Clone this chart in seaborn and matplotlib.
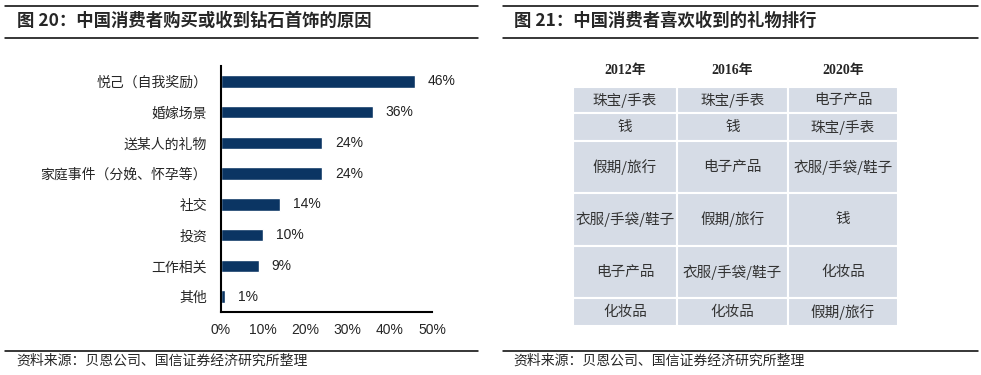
import matplotlib
matplotlib.use("Agg")
import matplotlib.pyplot as plt
import seaborn as sns
from matplotlib.lines import Line2D

# 数据
reasons = ["悦己（自我奖励）", "婚嫁场景", "送某人的礼物", "家庭事件（分娩、怀孕等）",
           "社交", "投资", "工作相关", "其他"]
shares = [46, 36, 24, 24, 14, 10, 9, 1]
x_ticks = [0, 10, 20, 30, 40, 50]

years = ["2012年", "2016年", "2020年"]
gifts_2012 = ["珠宝/手表", "钱", "假期/旅行", "衣服/手袋/鞋子", "电子产品", "化妆品"]
gifts_2016 = ["珠宝/手表", "钱", "电子产品", "假期/旅行", "衣服/手袋/鞋子", "化妆品"]
gifts_2020 = ["电子产品", "珠宝/手表", "衣服/手袋/鞋子", "钱", "化妆品", "假期/旅行"]

title_left = "图 20：中国消费者购买或收到钻石首饰的原因"
title_right = "图 21：中国消费者喜欢收到的礼物排行"
source = "资料来源：贝恩公司、国信证券经济研究所整理"

sns.set_style("white")
plt.rcParams["font.family"] = ["Noto Sans CJK SC", "DejaVu Sans"]

W, H = 981, 375
fig = plt.figure(figsize=(W / 100, H / 100), dpi=100)
bar_color = "#0b3563"


def fx(px):
    return px / W


def fy(py):
    return 1 - py / H


# 标题和分隔线
for x0, x1, tx, title in [(5, 478, 17, title_left), (503, 978, 514, title_right)]:
    for yy in (6, 38, 351):
        fig.add_artist(Line2D([fx(x0), fx(x1)], [fy(yy), fy(yy)], color="black", lw=1.1))
    fig.text(fx(tx), fy(21), title, fontsize=12.5, fontweight="bold", va="center", ha="left")
    fig.text(fx(tx - 1), fy(361), source, fontsize=10, va="center", ha="left")

# 左图：条形图
ax = fig.add_axes([fx(221), fy(312), fx(432) - fx(221), fy(66) - fy(312)])
sns.barplot(x=shares, y=reasons, orient="h", color=bar_color, width=0.4,
            saturation=1, ax=ax)
ax.set_xlim(0, 50)
ax.set_ylim(len(reasons) - 0.5, -0.5)
ax.set_xticks(x_ticks)
ax.set_xticklabels([f"{t}%" for t in x_ticks], family=["Liberation Sans"], fontsize=10)
ax.set_yticks(range(len(reasons)))
ax.set_yticklabels(reasons, fontsize=10)
ax.set_yticks([i - 0.5 for i in range(len(reasons) + 1)], minor=True)
ax.tick_params(axis="y", which="major", length=0, pad=10)
ax.tick_params(axis="y", which="minor", length=4, width=1.5, direction="out")
ax.tick_params(axis="x", length=4, width=1.5, direction="out", pad=4)
ax.set_xlabel("")
ax.set_ylabel("")
for s in ["top", "right"]:
    ax.spines[s].set_visible(False)
for s in ["left", "bottom"]:
    ax.spines[s].set_color("black")
    ax.spines[s].set_linewidth(1.5)
ax.bar_label(ax.containers[0], labels=[f"{v}%" for v in shares], padding=9,
             fontsize=10, family=["Liberation Sans"], color="#222222")
ax.set_facecolor("none")

# 右图：表格
ax2 = fig.add_axes([fx(573), fy(326), fx(898) - fx(573), fy(55) - fy(326)])
ax2.axis("off")
rows = [years] + [list(r) for r in zip(gifts_2012, gifts_2016, gifts_2020)]
row_px = [32, 26, 28, 52, 53, 52, 28]
col_px = [104, 111, 110]
tbl = ax2.table(cellText=rows, cellLoc="center", bbox=[0, 0, 1, 1])
tbl.auto_set_font_size(False)
for (r, c), cell in tbl.get_celld().items():
    cell.set_height(row_px[r])
    cell.set_width(col_px[c])
    if r == 0:
        cell.set_facecolor("none")
        cell.set_edgecolor("none")
        cell.get_text().set_fontsize(10)
        cell.get_text().set_fontweight("bold")
        cell.get_text().set_family(["Liberation Serif", "Noto Sans CJK SC"])
    else:
        cell.set_facecolor("#d6dce6")
        cell.set_edgecolor("white")
        cell.set_linewidth(1.5)
        cell.get_text().set_fontsize(10.5)
        cell.get_text().set_color("#333333")

fig.savefig("out.png", dpi=100)
